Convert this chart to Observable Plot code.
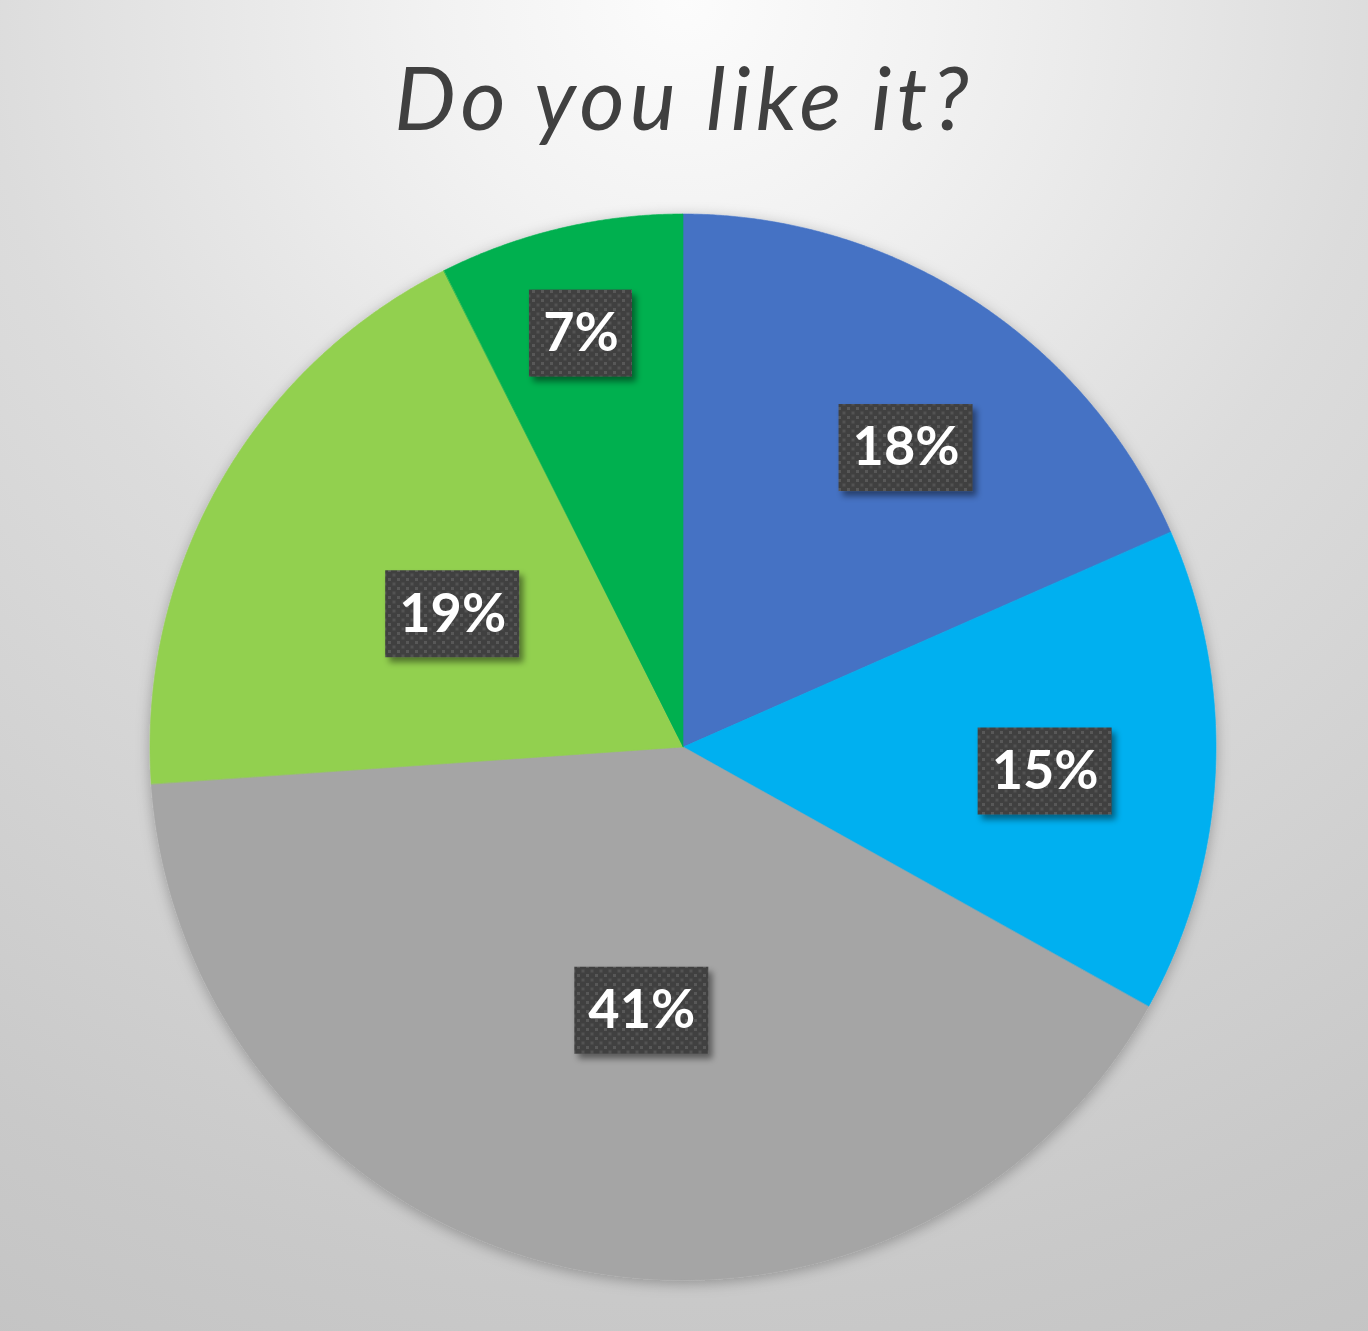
<!DOCTYPE html>
<html><head><meta charset="utf-8">
<script src="https://cdn.jsdelivr.net/npm/d3@7"></script>
<script src="https://cdn.jsdelivr.net/npm/@observablehq/plot@0.6"></script>
<style>
html,body{margin:0;padding:0;}
#page{width:1368px;height:1331px;position:relative;overflow:hidden;
  background: radial-gradient(circle at 50% 0%, #fcfcfc 0px, #f2f2f2 250px, #dcdcdc 700px, #c9c9c9 1300px, #c2c2c2 1600px);}
#title{box-sizing:content-box;padding-top:54px;height:86px;padding-bottom:50px;line-height:86px;
  font-family:Lato, "Open Sans", sans-serif;font-style:italic;font-weight:400;font-size:87px;letter-spacing:5px;color:#404040;text-align:center;white-space:nowrap;}
#chart svg{display:block;}
</style>
</head><body>
<div id="page">
  <div id="title">Do you like it?</div>
  <div id="chart"></div>
</div>
<script>
// ---- data ----
const categories = ["A", "B", "C", "D", "E"];
const values = [18.4, 14.7, 40.8, 18.7, 7.4];
const labels = ["18%", "15%", "41%", "19%", "7%"];
const colors = ["#4472C4", "#00B0F0", "#A5A5A5", "#92D050", "#00B050"];

// ---- layout parameters (best-fit label placement) ----
const labelRadius = [0.70, 0.68, 0.50, 0.50, 0.80];   // fraction of radius
const labelTurn = [3.5, 1.1, -3.6, 0.3, -0.6];         // degrees from slice mid-angle
const R = 533; // pie radius in px

const rows = categories.map((c, i) => ({cat: c, value: values[i], label: labels[i]}));
const arcs = d3.pie().sort(null).value(d => d.value).startAngle(0).endAngle(2 * Math.PI)(rows);

// sample arc outlines
const pts = [];
arcs.forEach(a => {
  const n = Math.max(2, Math.ceil((a.endAngle - a.startAngle) / (Math.PI / 720)));
  for (let k = 0; k <= n; k++) {
    const t = a.startAngle + (a.endAngle - a.startAngle) * k / n;
    pts.push({cat: a.data.cat, x: Math.sin(t), y: Math.cos(t)});
  }
});

const labelRows = arcs.map((a, i) => {
  const mid = (a.startAngle + a.endAngle) / 2 + labelTurn[i] * Math.PI / 180;
  const r = labelRadius[i];
  const halfW = (72 + 31 * (a.data.label.length - 1)) / 2 / R;
  const halfH = 43.5 / R;
  return {cat: a.data.cat, label: a.data.label, x: r * Math.sin(mid), y: r * Math.cos(mid), halfW, halfH};
});

const cx = 683, cy = 557;
const plot = Plot.plot({
  width: 1368,
  height: 1141,
  margin: 0,
  style: {background: "transparent", overflow: "visible"},
  x: {domain: [-1, 1], range: [cx - R, cx + R], axis: null},
  y: {domain: [-1, 1], range: [cy + R, cy - R], axis: null},
  color: {domain: categories, range: colors},
  marks: [
    Plot.area(pts, {x1: "x", y1: "y", x2: 0, y2: 0, z: "cat", fill: "cat", stroke: "cat", strokeWidth: 0.6}),
    Plot.rect(labelRows, {
      x1: d => d.x - d.halfW, x2: d => d.x + d.halfW,
      y1: d => d.y - d.halfH, y2: d => d.y + d.halfH,
      fill: "#404040"
    }),
    Plot.text(labelRows, {x: "x", y: "y", text: "label", fill: "white", fontSize: 54, fontWeight: "bold", fontFamily: "Lato, 'Open Sans', sans-serif"})
  ]
});

// effects: pie glow shadow, dotted label boxes with drop shadow
const ns = "http://www.w3.org/2000/svg";
const defs = document.createElementNS(ns, "defs");
defs.innerHTML = `
  <filter id="pieShadow" x="-10%" y="-10%" width="120%" height="120%">
    <feDropShadow dx="0" dy="3" stdDeviation="7" flood-color="#000" flood-opacity="0.28"/>
  </filter>
  <filter id="boxShadow" x="-20%" y="-20%" width="150%" height="150%">
    <feDropShadow dx="4" dy="5" stdDeviation="3" flood-color="#000" flood-opacity="0.45"/>
  </filter>
  <pattern id="dots" patternUnits="userSpaceOnUse" width="9" height="9">
    <rect width="9" height="9" fill="#404040"/>
    <rect x="1" y="1" width="3" height="3" fill="#585858"/>
    <rect x="5.5" y="5.5" width="3" height="3" fill="#525252"/>
  </pattern>`;
plot.insertBefore(defs, plot.firstChild);
const areaG = plot.querySelector('g[aria-label="area"]');
if (areaG) areaG.setAttribute("filter", "url(#pieShadow)");
const rectG = plot.querySelector('g[aria-label="rect"]');
if (rectG) {
  rectG.querySelectorAll("rect").forEach(r => r.setAttribute("fill", "url(#dots)"));
  rectG.setAttribute("fill", "url(#dots)");
  rectG.setAttribute("filter", "url(#boxShadow)");
}
document.getElementById("chart").appendChild(plot);
</script>
</body></html>
